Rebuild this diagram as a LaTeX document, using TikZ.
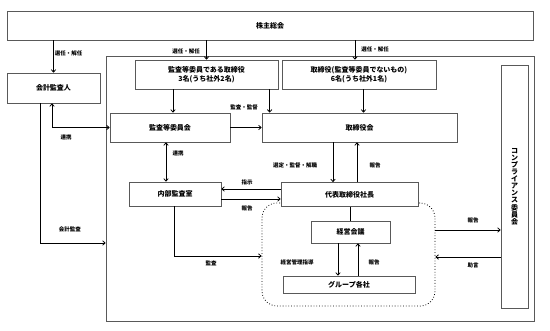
\documentclass[tikz,border=0pt]{standalone}
\usepackage{fontspec}
\setmainfont{Noto Sans CJK JP}
\usetikzlibrary{arrows.meta}
\begin{document}
\begin{tikzpicture}[x=1pt,y=-1pt,
  box/.style={draw=black!65, line width=0.7pt, fill=white, inner sep=0pt, font=\fontsize{7}{8.5}\selectfont\bfseries, align=center},
  lbl/.style={font=\fontsize{5.5}{6}\selectfont\bfseries, inner sep=0pt},
  ln/.style={line width=0.8pt},
  con/.style={ln, -{Straight Barb[length=2.5pt,width=4.5pt]}},
  con2/.style={ln, {Straight Barb[length=2.5pt,width=4.5pt]}-{Straight Barb[length=2.5pt,width=4.5pt]}}
]
\useasboundingbox (0,0) rectangle (550,330);
% boxes
\node[box, minimum width=526pt, minimum height=29pt] (soukai) at (270,25.5) {株主総会};
\node[draw=black!65, line width=0.7pt, inner sep=0pt, minimum width=428pt, minimum height=265pt] (outer) at (320,188.5) {};
\node[box, minimum width=93pt, minimum height=30pt] (kaikei) at (53.5,88) {会計監査人};
\node[box, minimum width=143pt, minimum height=29pt] (iintori) at (206.5,74.5) {監査等委員である取締役\\3名(うち社外2名)};
\node[box, minimum width=154pt, minimum height=29pt] (tori) at (359,74.5) {取締役(監査等委員でないもの)\\6名(うち社外1名)};
\node[box, minimum width=27pt, minimum height=243pt, font=\fontsize{7}{7.1}\selectfont\bfseries] (comp) at (514.5,186.5) {コ\\ン\\プ\\ラ\\イ\\ア\\ン\\ス\\委\\員\\会};
\node[box, minimum width=120pt, minimum height=29pt] (iinkai) at (170,127.5) {監査等委員会};
\node[box, minimum width=195pt, minimum height=29pt] (torikai) at (359.5,127.5) {取締役会};
\node[box, minimum width=92pt, minimum height=24pt] (naibu) at (175,194) {内部監査室};
\node[draw=black, line width=0.8pt, dotted, rounded corners=15pt, inner sep=0pt, minimum width=173pt, minimum height=103pt] (grp) at (348.5,254.5) {};
\node[box, minimum width=137pt, minimum height=24pt] (shacho) at (349.5,194.5) {代表取締役社長};
\node[box, minimum width=79pt, minimum height=22pt] (keiei) at (350.5,232) {経営会議};
\node[box, minimum width=132pt, minimum height=17pt] (group) at (349,284.5) {グループ各社};
% connectors
\draw[con] (kaikei.north |- soukai.south) -- (kaikei.north);
\draw[con] (iintori.north |- soukai.south) -- (iintori.north);
\coordinate (t3) at ([xshift=-4pt]tori.north);
\draw[con] (t3 |- soukai.south) -- (t3);
\coordinate (a1) at ([xshift=3pt]iinkai.north);
\draw[con] (a1 |- iintori.south) -- (a1);
\coordinate (a2) at ([xshift=8pt]torikai.north west);
\draw[con] (a2 |- iintori.south) -- (a2);
\coordinate (a3) at ([xshift=4.5pt]tori.south);
\draw[con] (a3) -- (a3 |- torikai.north);
\draw[con] (iinkai.east) -- (iinkai.east -| torikai.west);
\coordinate (b1) at ([xshift=-1.5pt]kaikei.south);
\draw[con2] (b1) |- (iinkai.west);
\coordinate (b2) at ([xshift=-13.5pt]kaikei.south);
\coordinate (b3) at ([yshift=-54.5pt]outer.west);
\draw[con] (b2) |- (b3);
\coordinate (c1) at ([xshift=-4pt]iinkai.south);
\draw[con2] (c1) -- (c1 |- naibu.north);
\coordinate (d1) at ([xshift=-26.5pt]torikai.south);
\draw[con] (d1) -- (d1 |- shacho.north);
\coordinate (d2) at ([xshift=-2.5pt]torikai.south);
\draw[con] (d2 |- shacho.north) -- (d2);
\coordinate (e1) at ([yshift=5.5pt]shacho.west);
\draw[con] (e1) -- (e1 -| naibu.east);
\coordinate (e2) at ([yshift=-4.5pt]shacho.west);
\draw[con] (e2 -| naibu.east) -- (e2);
\draw[ln] (keiei.north |- shacho.south) -- (keiei.north);
\coordinate (f1) at ([xshift=-12.5pt]keiei.south);
\draw[con] (f1) -- (f1 |- group.north);
\coordinate (f2) at ([xshift=7.5pt]keiei.south);
\draw[con] (f2 |- group.north) -- (f2);
\coordinate (g1) at ([xshift=-1pt]naibu.south);
\coordinate (g2) at ([yshift=-1.5pt]grp.west);
\draw[con] (g1) |- (g2);
\coordinate (h1) at ([yshift=24.5pt]grp.east);
\draw[con] (h1) -- (h1 -| comp.west);
\coordinate (h2) at ([yshift=-2.5pt]grp.east);
\draw[con] (h2 -| comp.west) -- (h2);
% labels
\node[lbl] (l1) at (68.5,53) {選任・解任};
\node[lbl] (l2) at (186,51) {選任・解任};
\node[lbl] (l3) at (375,49) {選任・解任};
\node[lbl] (l4) at (244,107) {監査・監督};
\node[lbl] (l5) at (66,137) {連携};
\node[lbl] (l6) at (70,229) {会計監査};
\node[lbl] (l7) at (178,153) {連携};
\node[lbl] (l8) at (295,165) {選定・監督・解職};
\node[lbl] (l9) at (375,165) {報告};
\node[lbl] (l10) at (247,182) {指示};
\node[lbl] (l11) at (247,208) {報告};
\node[lbl] (l12) at (211,263) {監査};
\node[lbl] (l13) at (297,262) {経営管理指導};
\node[lbl] (l14) at (374,262) {報告};
\node[lbl] (l15) at (473,220) {報告};
\node[lbl] (l16) at (473,265) {助言};
\end{tikzpicture}
\end{document}
